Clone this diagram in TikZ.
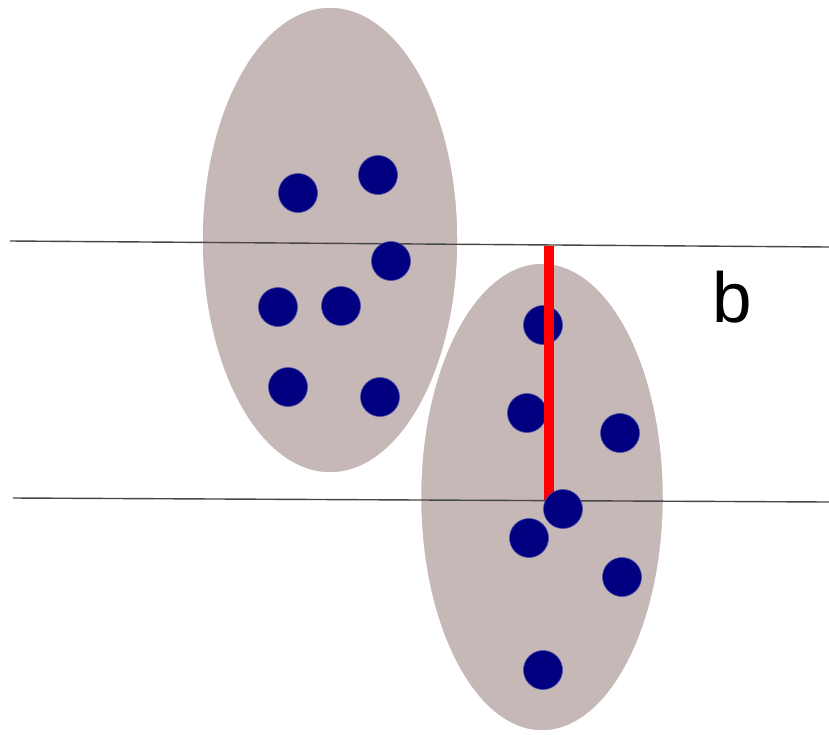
\documentclass[tikz,border=0pt]{standalone}
\usepackage{fontspec}
\setmainfont{Liberation Sans}
\usetikzlibrary{shapes.geometric}
\definecolor{blobfill}{RGB}{197,184,183}
\definecolor{dotblue}{RGB}{0,0,128}
\definecolor{linegrey}{RGB}{70,70,70}
\tikzset{
  blob/.style={ellipse, fill=blobfill, draw=white, line width=1.5pt, inner sep=0pt},
  dotpt/.style={circle, fill=dotblue, draw=dotblue!70!white, line width=0.6pt, minimum size=39pt, inner sep=0pt},
  hline/.style={draw=linegrey, line width=1.4pt},
  redbar/.style={draw=red, line width=10pt}
}
\begin{document}
\begin{tikzpicture}[x=1pt,y=-1pt]
\useasboundingbox (0,0) rectangle (829,734);
\fill[white] (0,0) rectangle (829,734);
% ellipses
\node[blob, minimum width=256pt, minimum height=466pt] (e1) at (330,240) {};
\node[blob, minimum width=243pt, minimum height=468pt] (e2) at (542,497) {};
% horizontal lines
\coordinate (l1a) at (10,241);
\coordinate (l1b) at (829,247);
\coordinate (l2a) at (13,498);
\coordinate (l2b) at (829,502);
\draw[hline] (l1a) -- (l1b);
\draw[hline] (l2a) -- (l2b);
% dots in first cluster
\node[dotpt] (a1) at (298,193) {};
\node[dotpt] (a2) at (378,175) {};
\node[dotpt] (a3) at (391,261) {};
\node[dotpt] (a4) at (278,307) {};
\node[dotpt] (a5) at (341,306) {};
\node[dotpt] (a6) at (288,387) {};
\node[dotpt] (a7) at (380,397) {};
% dots in second cluster
\node[dotpt] (b1) at (543,325) {};
\node[dotpt] (b2) at (527,413) {};
\node[dotpt] (b3) at (620,433) {};
\node[dotpt] (b5) at (529,538) {};
\node[dotpt] (b6) at (622,577) {};
\node[dotpt] (b7) at (543,670) {};
% red bar
\coordinate (rt) at (548.5,246);
\coordinate (rb) at (548.5,500);
\draw[redbar] (rt) -- (rb);
\node[dotpt] (b4) at (563,509) {};
% label
\node[anchor=base, inner sep=0pt, font=\fontsize{71}{71}\selectfont] (lb) at (732,322) {b};
\end{tikzpicture}
\end{document}
